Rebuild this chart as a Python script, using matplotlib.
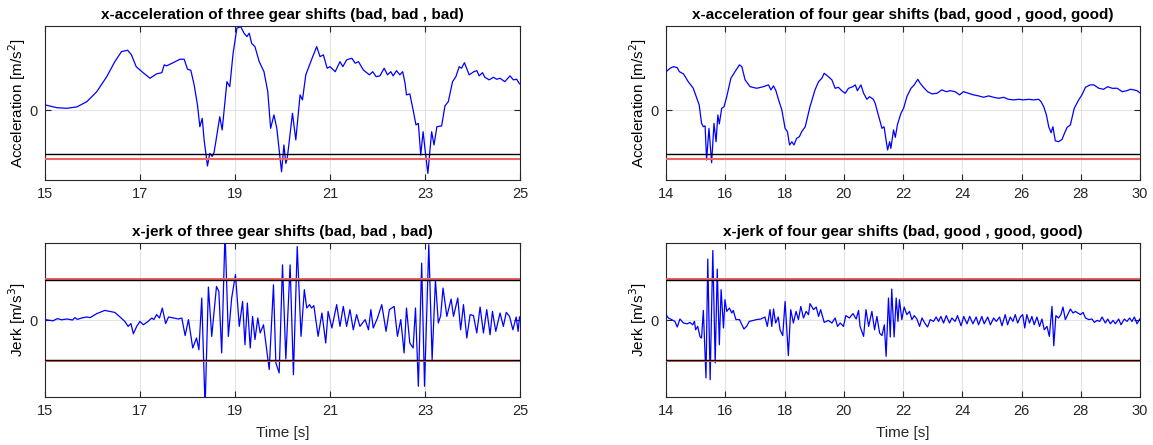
import numpy as np
import matplotlib
matplotlib.use("Agg")
import matplotlib.pyplot as plt

matplotlib.rcParams.update({
    'font.family': 'sans-serif',
    'font.sans-serif': ['Liberation Sans', 'DejaVu Sans'],
    'font.size': 10,
    'axes.linewidth': 0.8,
    'axes.edgecolor': '#262626',
    'xtick.color': '#262626',
    'ytick.color': '#262626',
    'xtick.direction': 'in',
    'ytick.direction': 'in',
})

# acceleration, three gear shifts (bad, bad, bad)
acc1_t = [15.00, 15.25, 15.46, 15.67, 15.88, 16.09, 16.30, 16.47, 16.61, 16.74, 16.82, 16.92,
          17.04, 17.21, 17.35, 17.46, 17.51, 17.56, 17.70, 17.84, 17.93, 18.00, 18.07, 18.14,
          18.21, 18.26, 18.31, 18.35, 18.42, 18.47, 18.52, 18.56, 18.68, 18.73, 18.83, 18.89,
          18.96, 19.04, 19.12, 19.19, 19.25, 19.30, 19.35, 19.42, 19.51, 19.61, 19.69, 19.75,
          19.82, 19.88, 19.98, 20.03, 20.07, 20.10, 20.21, 20.28, 20.37, 20.42, 20.49, 20.61,
          20.72, 20.79, 20.86, 20.94, 21.00, 21.11, 21.21, 21.27, 21.35, 21.46, 21.53, 21.60,
          21.70, 21.83, 21.90, 21.97, 22.05, 22.14, 22.21, 22.28, 22.33, 22.40, 22.47, 22.53,
          22.58, 22.61, 22.68, 22.75, 22.81, 22.86, 22.91, 22.96, 23.01, 23.06, 23.14, 23.19,
          23.25, 23.35, 23.42, 23.49, 23.58, 23.65, 23.72, 23.77, 23.83, 23.93, 24.03, 24.09,
          24.14, 24.21, 24.26, 24.35, 24.44, 24.51, 24.58, 24.68, 24.79, 24.86, 24.93, 24.99]
acc1_y = [0.27, 0.13, 0.10, 0.17, 0.43, 0.93, 1.68, 2.43, 2.93, 3.00, 2.77, 2.18,
          1.93, 1.60, 1.82, 1.88, 2.27, 2.22, 2.38, 2.55, 2.55, 2.05, 2.00, 1.27,
          0.27, -0.82, -0.40, -1.48, -2.78, -2.15, -2.30, -2.10, -0.32, -0.98, 1.43, 1.18,
          2.85, 4.10, 4.18, 3.85, 3.68, 3.85, 3.35, 3.18, 2.43, 1.93, 0.93, -0.90,
          -0.23, -0.90, -3.07, -1.73, -2.65, -2.40, -0.15, -1.48, 0.77, 0.52, 1.77, 2.52,
          3.18, 2.68, 2.77, 2.10, 2.18, 1.93, 2.43, 2.18, 2.52, 2.60, 2.35, 2.43,
          2.02, 1.77, 1.93, 1.68, 1.72, 2.10, 1.77, 1.93, 1.72, 1.98, 1.77, 1.93,
          1.35, 0.77, 0.82, 0.02, -0.73, -0.65, -2.23, -1.07, -2.15, -3.15, -1.07, -1.73,
          -0.82, -0.78, 0.22, 0.43, 1.43, 1.68, 2.18, 2.10, 2.38, 1.77, 1.93, 1.98,
          1.72, 1.88, 1.65, 1.52, 1.65, 1.55, 1.60, 1.43, 1.72, 1.52, 1.55, 1.32]

# acceleration, four gear shifts (bad, good, good, good)
acc2_t = [14.00, 14.14, 14.25, 14.38, 14.45, 14.59, 14.75, 14.92, 15.04, 15.12, 15.20, 15.26,
          15.32, 15.37, 15.45, 15.54, 15.62, 15.69, 15.75, 15.80, 15.88, 15.96, 16.05, 16.19,
          16.33, 16.48, 16.56, 16.67, 16.84, 17.06, 17.29, 17.46, 17.54, 17.63, 17.71, 17.80,
          17.91, 18.02, 18.10, 18.17, 18.25, 18.32, 18.41, 18.50, 18.58, 18.70, 18.86, 19.03,
          19.15, 19.26, 19.34, 19.48, 19.60, 19.71, 19.82, 19.93, 20.05, 20.16, 20.31, 20.39,
          20.46, 20.58, 20.67, 20.78, 20.87, 21.00, 21.06, 21.17, 21.29, 21.36, 21.48, 21.55,
          21.59, 21.68, 21.74, 21.81, 21.93, 22.02, 22.13, 22.27, 22.38, 22.50, 22.58, 22.69,
          22.83, 22.98, 23.15, 23.31, 23.46, 23.59, 23.76, 23.91, 24.04, 24.21, 24.38, 24.55,
          24.72, 24.89, 25.06, 25.23, 25.40, 25.56, 25.73, 25.90, 26.07, 26.24, 26.41, 26.58,
          26.66, 26.75, 26.84, 26.92, 27.00, 27.06, 27.14, 27.25, 27.37, 27.45, 27.54, 27.65,
          27.78, 27.93, 28.04, 28.16, 28.32, 28.44, 28.61, 28.77, 28.91, 29.06, 29.23, 29.40,
          29.56, 29.68, 29.79, 29.90, 29.99]
acc2_y = [1.93, 2.10, 2.18, 2.13, 1.93, 1.82, 1.43, 1.10, 0.60, 0.27, -0.65, -0.82,
          -0.78, -2.48, -0.90, -2.62, -0.65, -1.57, -0.23, -0.68, 0.10, 0.18, 0.68, 1.60,
          1.93, 2.27, 2.18, 1.52, 1.18, 1.10, 1.18, 1.27, 1.02, 1.22, 0.98, 0.52,
          0.02, -0.90, -1.07, -1.73, -1.57, -1.73, -1.40, -1.32, -1.07, -0.82, 0.18, 1.02,
          1.43, 1.60, 1.85, 1.68, 1.52, 1.10, 1.15, 0.98, 0.85, 1.10, 1.18, 1.27,
          0.98, 1.27, 0.85, 0.55, 0.68, 0.55, 0.35, -0.25, -0.90, -0.82, -1.98, -1.57,
          -1.90, -0.98, -1.35, -0.73, -0.15, 0.10, 0.68, 1.10, 1.27, 1.55, 1.35, 1.15,
          0.93, 0.82, 0.85, 1.02, 0.93, 0.98, 0.93, 0.77, 0.93, 0.85, 0.77, 0.72,
          0.65, 0.72, 0.65, 0.60, 0.65, 0.55, 0.52, 0.55, 0.52, 0.55, 0.52, 0.55,
          0.43, 0.18, -0.23, -0.82, -1.12, -0.82, -1.52, -1.57, -1.45, -1.15, -0.85, -0.73,
          0.10, 0.52, 0.77, 1.15, 1.27, 1.27, 1.10, 1.05, 1.18, 1.10, 1.10, 0.93,
          0.98, 1.05, 1.02, 0.98, 0.88]

# jerk, three gear shifts
jerk1_t = [15.00, 15.17, 15.26, 15.35, 15.46, 15.58, 15.63, 15.68, 15.77, 15.88, 15.95, 16.09,
           16.26, 16.47, 16.58, 16.68, 16.75, 16.81, 16.86, 16.93, 17.00, 17.07, 17.17, 17.25,
           17.29, 17.35, 17.41, 17.47, 17.54, 17.60, 17.70, 17.81, 17.88, 17.95, 18.02, 18.11,
           18.19, 18.24, 18.30, 18.37, 18.44, 18.51, 18.61, 18.66, 18.72, 18.79, 18.86, 18.93,
           19.01, 19.09, 19.16, 19.21, 19.26, 19.32, 19.37, 19.42, 19.48, 19.53, 19.60, 19.65,
           19.72, 19.81, 19.86, 19.93, 20.00, 20.07, 20.16, 20.23, 20.31, 20.39, 20.46, 20.51,
           20.57, 20.61, 20.66, 20.75, 20.83, 20.91, 20.96, 21.04, 21.14, 21.21, 21.28, 21.35,
           21.42, 21.49, 21.56, 21.63, 21.74, 21.81, 21.86, 21.91, 22.00, 22.09, 22.18, 22.25,
           22.35, 22.42, 22.49, 22.56, 22.61, 22.68, 22.75, 22.80, 22.86, 22.93, 22.99, 23.08,
           23.15, 23.22, 23.28, 23.33, 23.38, 23.46, 23.55, 23.60, 23.69, 23.75, 23.81, 23.88,
           23.95, 24.02, 24.09, 24.16, 24.23, 24.30, 24.37, 24.42, 24.49, 24.58, 24.65, 24.71,
           24.78, 24.85, 24.92, 24.96, 24.99]
jerk1_y = [0.02, -0.04, 0.07, 0.01, 0.05, 0.00, 0.12, 0.03, 0.10, 0.15, 0.12, 0.32,
           0.48, 0.38, 0.15, -0.07, -0.32, -0.18, -0.69, -0.32, -0.07, -0.24, -0.07, 0.10,
           0.02, 0.27, 0.10, 0.60, -0.18, 0.15, 0.10, 0.05, 0.10, -0.78, 0.02, -1.40,
           -0.90, -1.49, 1.10, -4.40, 1.65, -0.82, 1.68, 1.43, -1.65, 4.40, -0.82, 1.10,
           2.27, -0.32, 0.93, -1.24, 0.85, -1.40, 0.18, -0.98, 0.10, -0.65, -0.24, -1.19,
           -2.48, 1.76, -2.15, -2.65, 2.76, -1.95, 2.76, -2.74, 3.68, -0.82, 1.52, 0.60,
           0.77, 0.60, 0.72, -0.82, 0.35, -1.15, 0.43, -0.40, 0.77, -0.32, 0.68, -0.32,
           0.52, -0.49, 0.27, -0.32, 0.02, -0.49, 0.52, -0.40, 0.10, 0.77, -0.57, 0.52,
           0.68, -0.82, 0.02, -1.65, 0.60, -1.15, -1.40, 0.60, -3.32, 2.85, -3.32, 3.77,
           -1.99, 2.01, -0.15, 0.22, 1.60, 0.18, 1.05, 0.18, 1.10, -0.49, 0.77, -0.90,
           0.27, 0.22, -0.65, 0.65, -0.65, 0.52, -0.74, 0.43, -0.57, 0.35, -0.32, 0.38,
           0.18, -0.49, 0.15, -0.57, 0.15]

# jerk, four gear shifts
jerk2_t = [14.00, 14.08, 14.19, 14.30, 14.38, 14.47, 14.59, 14.72, 14.81, 14.90, 14.96, 15.00,
           15.07, 15.15, 15.20, 15.26, 15.35, 15.41, 15.49, 15.58, 15.66, 15.73, 15.80, 15.86,
           15.94, 15.99, 16.05, 16.14, 16.22, 16.27, 16.36, 16.48, 16.63, 16.72, 16.81, 16.95,
           17.06, 17.20, 17.34, 17.42, 17.51, 17.57, 17.63, 17.70, 17.79, 17.85, 17.94, 18.02,
           18.13, 18.21, 18.30, 18.39, 18.47, 18.55, 18.64, 18.73, 18.81, 18.86, 18.98, 19.07,
           19.15, 19.22, 19.34, 19.48, 19.60, 19.71, 19.79, 19.88, 19.99, 20.07, 20.19, 20.31,
           20.42, 20.50, 20.55, 20.67, 20.75, 20.84, 20.95, 21.04, 21.12, 21.21, 21.29, 21.37,
           21.43, 21.51, 21.57, 21.62, 21.70, 21.77, 21.83, 21.88, 21.96, 22.04, 22.13, 22.22,
           22.30, 22.38, 22.47, 22.56, 22.64, 22.75, 22.83, 22.92, 23.03, 23.12, 23.20, 23.28,
           23.37, 23.46, 23.57, 23.65, 23.76, 23.84, 23.96, 24.05, 24.16, 24.25, 24.36, 24.47,
           24.55, 24.66, 24.74, 24.86, 24.95, 25.06, 25.15, 25.26, 25.34, 25.45, 25.53, 25.62,
           25.71, 25.79, 25.87, 25.96, 26.04, 26.11, 26.18, 26.27, 26.35, 26.43, 26.52, 26.61,
           26.69, 26.77, 26.86, 26.94, 27.03, 27.09, 27.16, 27.25, 27.33, 27.40, 27.48, 27.56,
           27.65, 27.74, 27.82, 27.90, 27.99, 28.08, 28.16, 28.27, 28.38, 28.46, 28.55, 28.64,
           28.72, 28.83, 28.91, 29.00, 29.09, 29.17, 29.28, 29.36, 29.47, 29.56, 29.65, 29.73,
           29.81, 29.90, 29.99]
jerk2_y = [0.27, 0.10, 0.02, -0.07, -0.35, 0.05, -0.15, -0.19, -0.12, -0.24, -0.07, -0.49,
           -0.32, -0.85, -0.90, 0.48, -2.90, 3.05, -2.99, 3.48, -2.15, 2.55, -1.24, 1.52,
           -0.40, 1.02, 0.43, 0.60, 0.35, 0.48, 0.02, 0.02, -0.45, -0.32, -0.07, -0.02,
           0.02, 0.05, 0.15, -0.32, 0.52, -0.32, 0.55, -0.15, 0.15, -0.49, -0.78, 0.93,
           -1.78, 0.52, -0.15, 0.43, 0.02, 0.68, 0.10, 0.43, 0.27, 0.82, 0.52, 0.65,
           0.18, 0.52, -0.12, -0.02, -0.15, 0.10, -0.32, -0.15, -0.32, 0.22, 0.10, 0.32,
           0.05, 0.48, -0.32, -0.82, 0.52, -0.32, 0.43, -0.49, 0.18, -0.65, -0.78, -0.24,
           -1.82, 1.10, -0.85, 1.55, -0.85, 1.10, -0.07, 1.02, 0.02, 0.65, 0.27, 0.43,
           0.02, 0.22, 0.05, -0.32, 0.10, -0.19, -0.35, 0.02, -0.07, 0.15, -0.07, 0.18,
           -0.15, 0.22, -0.15, 0.10, -0.07, 0.22, -0.29, 0.18, -0.19, 0.18, -0.19, 0.15,
           -0.24, 0.18, -0.19, 0.15, -0.24, 0.10, -0.07, 0.15, -0.29, 0.27, -0.24, 0.15,
           -0.07, 0.27, -0.15, 0.15, 0.27, -0.40, 0.27, -0.15, 0.18, -0.24, 0.15, -0.32,
           0.05, -0.49, -0.32, -0.82, 0.68, -1.29, 0.22, 0.10, 0.27, 0.65, 0.02, 0.27,
           0.55, 0.35, 0.43, 0.35, 0.27, 0.38, 0.10, 0.02, 0.05, -0.12, -0.02, -0.07,
           0.15, -0.15, 0.05, -0.19, -0.02, -0.19, 0.05, -0.24, 0.05, -0.07, 0.10, -0.07,
           0.15, -0.19, 0.05]

# thresholds
acc_limit_black = -2.18
acc_limit_red = -2.43
jerk_limit_black = 2.0
jerk_limit_red = 2.07

titles = ['x-acceleration of three gear shifts (bad, bad , bad)',
          'x-acceleration of four gear shifts (bad, good , good, good)',
          'x-jerk of three gear shifts (bad, bad , bad)',
          'x-jerk of four gear shifts (bad, good , good, good)']
xticks_left = [15, 17, 19, 21, 23, 25]
xticks_right = [14, 16, 18, 20, 22, 24, 26, 28, 30]

fig = plt.figure(figsize=(11.53, 4.45), dpi=100)
W, H = 1153, 445
boxes = [(45, 26, 520, 180), (666, 26, 1140, 180),
         (45, 243.3, 520, 396.7), (666, 243.3, 1140, 396.7)]
axes = []
for (x0, y0, x1, y1) in boxes:
    axes.append(fig.add_axes([x0 / W, 1 - y1 / H, (x1 - x0) / W, (y1 - y0) / H]))

series = [(acc1_t, acc1_y), (acc2_t, acc2_y), (jerk1_t, jerk1_y), (jerk2_t, jerk2_y)]
for i, ax in enumerate(axes):
    t, y = series[i]
    left = i % 2 == 0
    ax.plot(t, y, color='#0000ff', lw=0.9, zorder=3)
    if i < 2:
        ax.axhline(acc_limit_black, color='black', lw=1.0, zorder=4)
        ax.axhline(acc_limit_red, color='#f06464', lw=1.5, zorder=4)
        ax.set_ylim(-3.48, 4.21)
        ax.set_ylabel('Acceleration [m/s$^2$]', fontsize=11)
    else:
        for s in (1, -1):
            ax.axhline(s * jerk_limit_red, color='#f06464', lw=1.5, zorder=4)
            ax.axhline(s * jerk_limit_black, color='black', lw=1.0, zorder=4)
        ax.set_ylim(-3.84, 3.84)
        ax.set_ylabel('Jerk [m/s$^3$]', fontsize=11)
        ax.set_xlabel('Time [s]', fontsize=11, color='#262626', labelpad=6)
    ax.yaxis.set_label_coords(-0.036, 0.5)
    if left:
        ax.set_xlim(15, 25)
        ax.set_xticks(xticks_left)
    else:
        ax.set_xlim(14, 30)
        ax.set_xticks(xticks_right)
    ax.set_yticks([0])
    ax.grid(True, color='#e3e3e3', lw=0.8, zorder=0)
    ax.tick_params(top=True, right=True, length=4, width=0.8, labelsize=10.5, pad=5)
    ax.set_title(titles[i], fontsize=11, fontweight='bold', pad=5)

fig.savefig('out.png', dpi=100)
